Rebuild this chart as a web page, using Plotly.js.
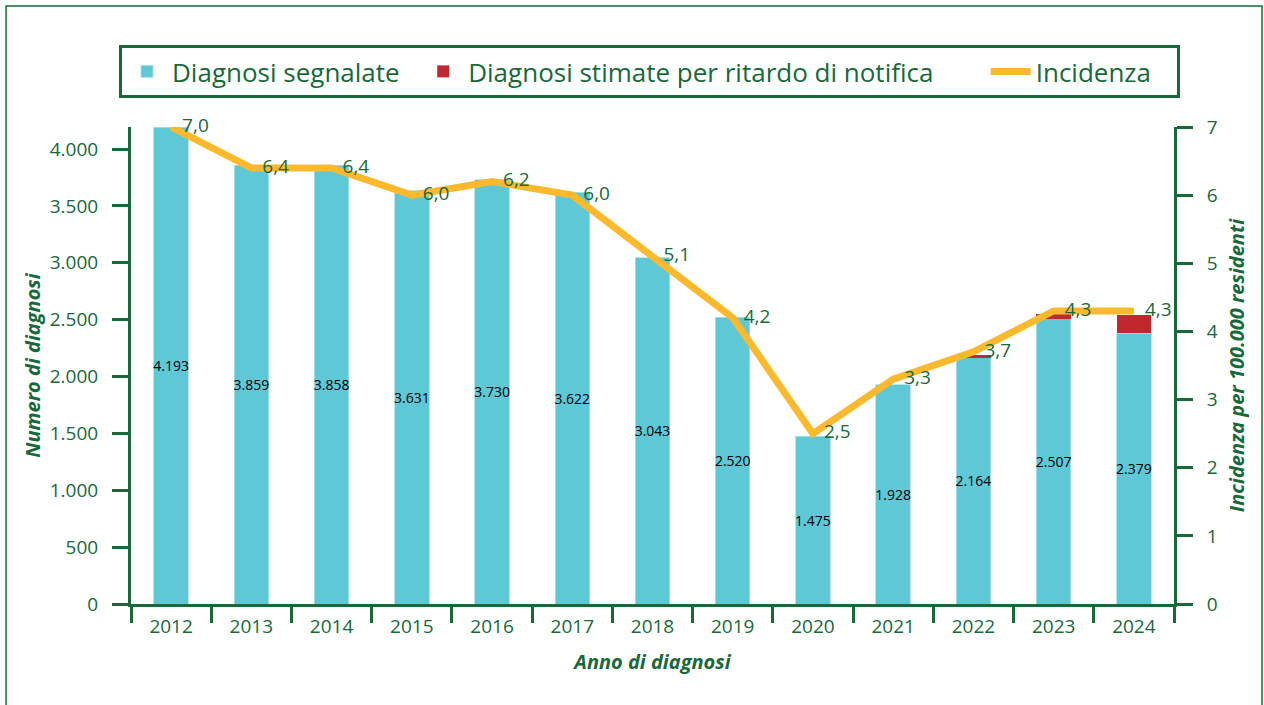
<!DOCTYPE html>
<html>
<head>
<meta charset="utf-8">
<script src="https://cdn.plot.ly/plotly-3.0.1.min.js"></script>
<style>
  html, body { margin: 0; padding: 0; background: #ffffff; }
  #chart { width: 1264px; height: 705px; }
</style>
</head>
<body>
<div id="chart"></div>
<script>
const years = ['2012','2013','2014','2015','2016','2017','2018','2019','2020','2021','2022','2023','2024'];
const reported = [4193, 3859, 3858, 3631, 3730, 3622, 3043, 2520, 1475, 1928, 2164, 2507, 2379];
const estimatedDelay = [0, 0, 0, 0, 0, 0, 0, 0, 0, 0, 25, 40, 165];
const incidence = [7.0, 6.4, 6.4, 6.0, 6.2, 6.0, 5.1, 4.2, 2.5, 3.3, 3.7, 4.3, 4.3];
const seriesNames = ['Diagnosi segnalate', 'Diagnosi stimate per ritardo di notifica', 'Incidenza'];

const GREEN = '#17693a';
const CYAN = '#5ec8d7';
const RED = '#c1272e';
const ORANGE = '#fdb92c';
const FONT = '"Open Sans", "Noto Sans", sans-serif';
const pad = n => '\u00a0'.repeat(n);

const traces = [
  {
    type: 'bar', name: seriesNames[0] + pad(2),
    x: years, y: reported,
    marker: { color: CYAN, line: { color: '#a9e1ea', width: 0.8 } },
    width: 0.43,
    texttemplate: '%{y:,d}',
    textposition: 'inside', insidetextanchor: 'middle', constraintext: 'none',
    textangle: 0,
    textfont: { color: '#000000', size: 14, family: FONT },
    hoverinfo: 'x+y'
  },
  {
    type: 'bar', name: seriesNames[1] + pad(7),
    x: years, y: estimatedDelay,
    marker: { color: RED },
    width: 0.43,
    hoverinfo: 'x+y'
  },
  {
    type: 'scatter', mode: 'lines+markers+text', name: seriesNames[2] + pad(3),
    x: years, y: incidence, yaxis: 'y2',
    line: { color: ORANGE, width: 7 },
    marker: { size: 16, color: 'rgba(0,0,0,0)', line: { width: 0 } },
    texttemplate: '%{y:.1f}',
    textposition: 'middle right',
    textfont: { color: GREEN, size: 19, family: FONT },
    cliponaxis: false
  }
];

const layout = {
  width: 1264, height: 705,
  margin: { l: 131, r: 90, t: 127, b: 101, pad: 0, autoexpand: false },
  paper_bgcolor: '#ffffff', plot_bgcolor: '#ffffff',
  separators: ',.',
  barmode: 'stack',
  font: { family: FONT, color: GREEN, size: 19 },
  showlegend: true,
  legend: {
    orientation: 'h',
    x: -0.0115, xanchor: 'left', y: 1.1164, yanchor: 'middle',
    font: { size: 26, color: GREEN, family: FONT },
    bordercolor: GREEN, borderwidth: 3, bgcolor: '#ffffff',
    traceorder: 'normal', itemwidth: 40
  },
  xaxis: {
    type: 'category', tickson: 'boundaries', range: [-0.5, 12.5],
    ticks: 'outside', ticklen: 16, tickwidth: 3, tickcolor: GREEN,
    showline: true, linecolor: GREEN, linewidth: 3,
    showgrid: false, zeroline: false,
    tickfont: { size: 19, color: GREEN }, ticklabelstandoff: 3,
    title: { text: '<b><i>Anno di diagnosi</i></b>', font: { size: 20, color: GREEN }, standoff: 18 }
  },
  yaxis: {
    range: [0, 4193.4], dtick: 500, tickformat: ',d',
    ticks: 'outside', ticklen: 16, tickwidth: 3, tickcolor: GREEN,
    showline: true, linecolor: GREEN, linewidth: 3,
    showgrid: false, zeroline: false,
    tickfont: { size: 19, color: GREEN }, ticklabelstandoff: 10,
    title: { text: '<b><i>Numero di diagnosi</i></b>', font: { size: 20, color: GREEN }, standoff: 4 }
  },
  yaxis2: {
    overlaying: 'y', side: 'right',
    range: [0, 7], dtick: 1,
    ticks: 'outside', ticklen: 16, tickwidth: 3, tickcolor: GREEN,
    showline: true, linecolor: GREEN, linewidth: 3,
    showgrid: false, zeroline: false,
    tickfont: { size: 19, color: GREEN }, ticklabelstandoff: 10,
    title: { text: '<b><i>Incidenza per 100.000 residenti</i></b>', font: { size: 20, color: GREEN }, standoff: 14 }
  },
  shapes: [
    {
      type: 'rect', xref: 'paper', yref: 'paper', layer: 'below',
      x0: -0.1198, x1: 1.0844, y0: -0.23, y1: 1.2537,
      line: { color: GREEN, width: 1.5 }, fillcolor: 'rgba(0,0,0,0)'
    }
  ]
};

Plotly.newPlot('chart', traces, layout, { displayModeBar: false, responsive: false });
</script>
</body>
</html>
